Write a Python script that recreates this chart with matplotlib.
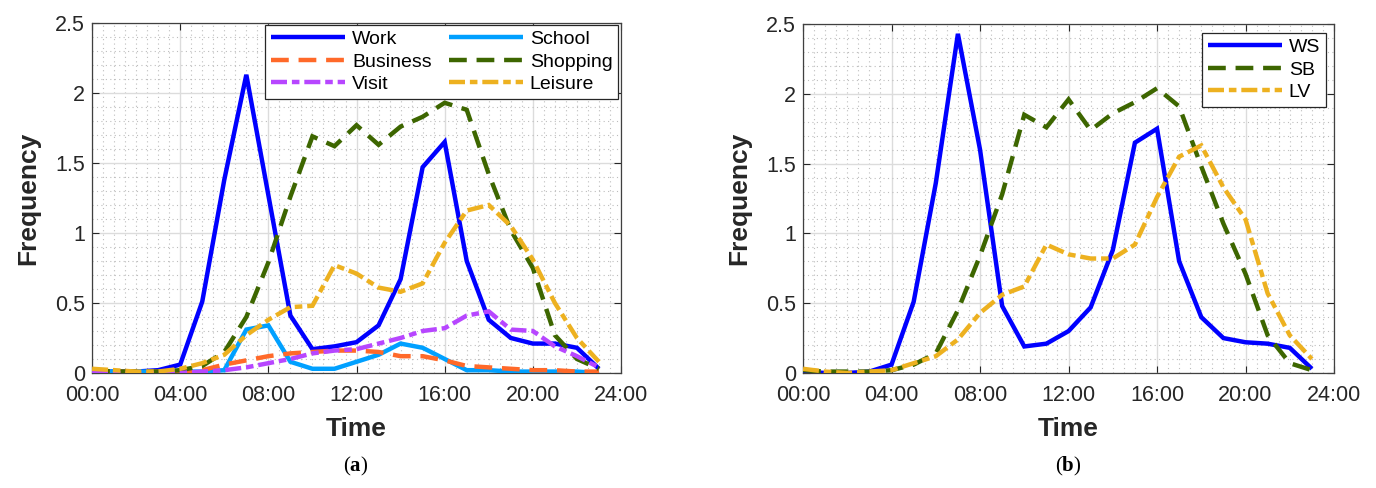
import matplotlib
matplotlib.use("Agg")
import matplotlib.pyplot as plt
from matplotlib.ticker import MultipleLocator, FixedLocator

plt.rcParams['font.family'] = ['Liberation Sans', 'DejaVu Sans']
plt.rcParams['mathtext.fontset'] = 'custom'
plt.rcParams['mathtext.rm'] = 'Liberation Serif'
plt.rcParams['mathtext.bf'] = 'Liberation Serif:bold'

# ---------------- data ----------------
hours = list(range(24))
xtick_vals = [0, 4, 8, 12, 16, 20, 24]
xtick_labels = ['00:00', '04:00', '08:00', '12:00', '16:00', '20:00', '24:00']
ytick_vals = [0, 0.5, 1, 1.5, 2, 2.5]
ytick_labels = ['0', '0.5', '1', '1.5', '2', '2.5']

work = [0.01, 0.01, 0.01, 0.02, 0.06, 0.51, 1.38, 2.13, 1.27, 0.41, 0.17, 0.19,
        0.22, 0.34, 0.67, 1.47, 1.65, 0.80, 0.38, 0.25, 0.21, 0.21, 0.18, 0.03]
school = [0.01, 0.01, 0.01, 0.01, 0.01, 0.01, 0.02, 0.31, 0.34, 0.08, 0.03, 0.03,
          0.08, 0.13, 0.21, 0.18, 0.10, 0.02, 0.02, 0.01, 0.01, 0.01, 0.01, 0.00]
business = [0.02, 0.01, 0.01, 0.01, 0.01, 0.02, 0.06, 0.09, 0.12, 0.14, 0.15, 0.16,
            0.16, 0.15, 0.12, 0.12, 0.09, 0.05, 0.04, 0.03, 0.02, 0.02, 0.01, 0.01]
shopping = [0.02, 0.01, 0.01, 0.01, 0.02, 0.05, 0.15, 0.40, 0.79, 1.26, 1.69, 1.62,
            1.77, 1.63, 1.76, 1.83, 1.93, 1.88, 1.42, 1.02, 0.75, 0.27, 0.10, 0.03]
visit = [0.00, 0.00, 0.00, 0.00, 0.00, 0.01, 0.02, 0.04, 0.07, 0.10, 0.14, 0.16,
         0.17, 0.21, 0.25, 0.30, 0.32, 0.41, 0.44, 0.31, 0.30, 0.19, 0.12, 0.04]
leisure = [0.03, 0.02, 0.01, 0.01, 0.03, 0.07, 0.13, 0.27, 0.38, 0.47, 0.48, 0.77,
           0.71, 0.61, 0.58, 0.64, 0.93, 1.16, 1.20, 1.05, 0.81, 0.50, 0.25, 0.08]

ws = [0.01, 0.00, 0.00, 0.01, 0.06, 0.51, 1.36, 2.43, 1.60, 0.48, 0.19, 0.21,
      0.30, 0.47, 0.88, 1.65, 1.75, 0.80, 0.40, 0.25, 0.22, 0.21, 0.18, 0.03]
sb = [0.02, 0.01, 0.01, 0.01, 0.02, 0.06, 0.14, 0.45, 0.84, 1.28, 1.85, 1.76,
      1.96, 1.74, 1.86, 1.94, 2.04, 1.91, 1.48, 1.07, 0.71, 0.27, 0.07, 0.02]
lv = [0.03, 0.01, 0.00, 0.01, 0.02, 0.07, 0.12, 0.24, 0.43, 0.56, 0.62, 0.92,
      0.85, 0.82, 0.82, 0.92, 1.26, 1.55, 1.63, 1.33, 1.10, 0.57, 0.27, 0.10]

# ---------------- styles ----------------
TXT = '#262626'
LW = 3.2
DASH = (0, (4.0, 2.2))
DASHDOT = (0, (3.6, 1.1, 1.7, 1.1))

C_WORK = '#0000FF'
C_SCHOOL = '#00A0FF'
C_BUS = '#FF6929'
C_SHOP = '#3D6600'
C_VISIT = '#B746FF'
C_LEIS = '#EDB120'

fig = plt.figure(figsize=(13.76, 4.88), dpi=100)
axA = fig.add_axes([0.0669, 0.2357, 0.3844, 0.7172])
axB = fig.add_axes([0.5836, 0.2357, 0.3859, 0.7150])


def style_axes(ax):
    ax.set_xlim(0, 24)
    ax.set_ylim(0, 2.5)
    ax.xaxis.set_major_locator(FixedLocator(xtick_vals))
    ax.set_xticklabels(xtick_labels)
    ax.yaxis.set_major_locator(FixedLocator(ytick_vals))
    ax.set_yticklabels(ytick_labels)
    ax.xaxis.set_minor_locator(MultipleLocator(0.5))
    ax.yaxis.set_minor_locator(MultipleLocator(0.1))
    ax.grid(True, which='major', color='#DCDCDC', lw=1.0, ls='-', zorder=0)
    ax.grid(True, which='minor', color='#BDBDBD', lw=0.8, ls=(0, (1, 3)), zorder=0)
    ax.set_axisbelow(True)
    ax.tick_params(which='major', direction='in', length=5, width=0.8,
                   top=True, right=True, colors=TXT, labelsize=15.5)
    ax.tick_params(axis='x', which='major', pad=9)
    ax.tick_params(axis='y', which='major', pad=5)
    ax.tick_params(which='minor', length=0, top=True, right=True)
    for s in ax.spines.values():
        s.set_color('#404040')
        s.set_linewidth(0.9)
    ax.set_xlabel('Time', fontsize=19, fontweight='bold', color=TXT)
    ax.set_ylabel('Frequency', fontsize=19, fontweight='bold', color=TXT)
    ax.xaxis.label.set_va('center')
    ax.yaxis.label.set_va('center')
    ax.xaxis.set_label_coords(0.5, -0.16)
    ax.yaxis.set_label_coords(-0.121, 0.5)


def line(ax, y, color, ls, label):
    h, = ax.plot(hours, y, color=color, lw=LW, ls=ls, label=label,
                 solid_capstyle='butt', dash_capstyle='butt',
                 solid_joinstyle='miter', dash_joinstyle='miter', zorder=3)
    return h


style_axes(axA)
hW = line(axA, work, C_WORK, '-', 'Work')
hS = line(axA, school, C_SCHOOL, '-', 'School')
hB = line(axA, business, C_BUS, DASH, 'Business')
hSh = line(axA, shopping, C_SHOP, DASH, 'Shopping')
hV = line(axA, visit, C_VISIT, DASHDOT, 'Visit')
hL = line(axA, leisure, C_LEIS, DASHDOT, 'Leisure')
legA = axA.legend([hW, hB, hV, hS, hSh, hL],
                  ['Work', 'Business', 'Visit', 'School', 'Shopping', 'Leisure'],
                  ncol=2, loc='upper right', bbox_to_anchor=(0.995, 0.995),
                  borderaxespad=0, fontsize=14, handlelength=3.8,
                  handletextpad=0.35, columnspacing=0.9, labelspacing=0.25,
                  borderpad=0.3, fancybox=False, framealpha=1, edgecolor=TXT)
legA.get_frame().set_linewidth(0.9)
for t in legA.get_texts():
    t.set_color('black')

style_axes(axB)
hWS = line(axB, ws, C_WORK, '-', 'WS')
hSB = line(axB, sb, C_SHOP, DASH, 'SB')
hLV = line(axB, lv, C_LEIS, DASHDOT, 'LV')
legB = axB.legend(loc='upper right', bbox_to_anchor=(0.985, 0.975),
                  borderaxespad=0, fontsize=14, handlelength=3.8,
                  handletextpad=0.35, labelspacing=0.25, borderpad=0.3,
                  fancybox=False, framealpha=1, edgecolor=TXT)
legB.get_frame().set_linewidth(0.9)
for t in legB.get_texts():
    t.set_color('black')

fig.text(0.2587, 0.045, r'($\mathbf{a}$)', ha='center', va='center',
         fontsize=15, family='Liberation Serif', color='black')
fig.text(0.7762, 0.045, r'($\mathbf{b}$)', ha='center', va='center',
         fontsize=15, family='Liberation Serif', color='black')

fig.savefig('out.png', dpi=100)
